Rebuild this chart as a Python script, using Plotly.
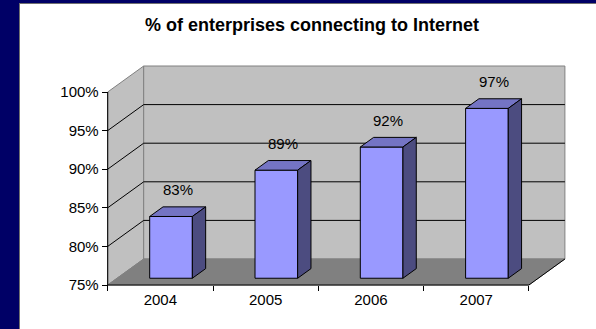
import plotly.graph_objects as go

# ---- data ----
years = ["2004", "2005", "2006", "2007"]
values = [83, 89, 92, 97]
y_ticks = [75, 80, 85, 90, 95, 100]
y_tick_labels = ["75%", "80%", "85%", "90%", "95%", "100%"]
title = "% of enterprises connecting to Internet"

# ---- layout / projection constants ----
W, H = 596, 329
PX_PER_CAT = 105.3
PX_PER_PCT = 7.72
X0_PX, Y0_PX = 107.7, 285.0          # screen position of (cat 0, 75%)
YMIN, YMAX = y_ticks[0], y_ticks[-1]
DX = 36.0 / PX_PER_CAT               # depth offset in category units
DY = 26.0 / PX_PER_PCT               # depth offset in % units
BAR_X0, BAR_X1 = 0.31, 0.715
BAR_D0, BAR_D1 = 0.26, 0.63

x_range = [-X0_PX / PX_PER_CAT, (W - X0_PX) / PX_PER_CAT]
y_range = [YMIN - (H - Y0_PX) / PX_PER_PCT, YMIN + Y0_PX / PX_PER_PCT]

FONT = "Arial, Liberation Sans, sans-serif"
NAVY = "#000066"


def P(x, y, d):
    return x + d * DX, y + d * DY


def poly(points, fill, line_color, width=1):
    pts = [P(*p) for p in points] + [P(*points[0])]
    return go.Scatter(x=[p[0] for p in pts], y=[p[1] for p in pts], mode="lines",
                      fill="toself", fillcolor=fill,
                      line=dict(color=line_color, width=width),
                      hoverinfo="skip", showlegend=False)


def line(points, color, width=1):
    pts = [P(*p) for p in points]
    return go.Scatter(x=[p[0] for p in pts], y=[p[1] for p in pts], mode="lines",
                      line=dict(color=color, width=width),
                      hoverinfo="skip", showlegend=False)


n = len(years)
fig = go.Figure()

# walls and floor
fig.add_trace(poly([(0, YMIN, 0), (0, YMIN, 1), (0, YMAX, 1), (0, YMAX, 0)], "#c0c0c0", "#808080"))
fig.add_trace(poly([(0, YMIN, 1), (n, YMIN, 1), (n, YMAX, 1), (0, YMAX, 1)], "#c0c0c0", "#808080"))
fig.add_trace(poly([(0, YMIN, 0), (n, YMIN, 0), (n, YMIN, 1), (0, YMIN, 1)], "#808080", "#808080"))
fig.add_trace(line([(n, YMIN, 0), (n, YMIN, 1)], "black"))

# gridlines
for v in y_ticks[1:-1]:
    fig.add_trace(line([(0, v, 0), (0, v, 1), (n, v, 1)], "black"))

# axis lines
fig.add_trace(line([(0, YMIN, 0), (0, YMAX, 0)], "black"))
fig.add_trace(line([(0, YMIN, 0), (n, YMIN, 0)], "black"))

# bars
for i, v in enumerate(values):
    a, b = i + BAR_X0, i + BAR_X1
    fig.add_trace(poly([(a, YMIN, BAR_D0), (b, YMIN, BAR_D0), (b, v, BAR_D0), (a, v, BAR_D0)], "#9999ff", "black"))
    fig.add_trace(poly([(a, v, BAR_D0), (b, v, BAR_D0), (b, v, BAR_D1), (a, v, BAR_D1)], "#7474c4", "black"))
    fig.add_trace(poly([(b, YMIN, BAR_D0), (b, YMIN, BAR_D1), (b, v, BAR_D1), (b, v, BAR_D0)], "#4c4c80", "black"))
    lx, ly = P(i + (BAR_X0 + BAR_X1) / 2, v, (BAR_D0 + BAR_D1) / 2)
    fig.add_annotation(x=lx, y=ly, text=f"{v}%", showarrow=False, yshift=22,
                       xanchor="center", yanchor="middle",
                       font=dict(family=FONT, size=15, color="black"))

# title
fig.add_annotation(x=312 / W, y=1 - 25 / H, xref="paper", yref="paper", text=f"<b>{title}</b>",
                   showarrow=False, xanchor="center", yanchor="middle",
                   font=dict(family=FONT, size=18, color="black"))

# navy frame strips (left and top) with a thin grey edge
fig.add_shape(type="rect", xref="paper", yref="paper", x0=-0.01, x1=19.5 / W, y0=-0.01, y1=1.01,
              fillcolor=NAVY, line=dict(width=0), layer="below")
fig.add_shape(type="rect", xref="paper", yref="paper", x0=-0.01, x1=1.01, y0=1 - 3 / H, y1=1.01,
              fillcolor=NAVY, line=dict(width=0), layer="below")
fig.add_shape(type="line", xref="paper", yref="paper", x0=19.5 / W, x1=19.5 / W, y0=-0.01, y1=1 - 3 / H,
              line=dict(color="#707070", width=1), layer="below")
fig.add_shape(type="line", xref="paper", yref="paper", x0=19.5 / W, x1=1.01, y0=1 - 3.5 / H, y1=1 - 3.5 / H,
              line=dict(color="#707070", width=1), layer="below")

x_axis_pos = (YMIN - y_range[0]) / (y_range[1] - y_range[0])
y_axis_pos = (0 - x_range[0]) / (x_range[1] - x_range[0])

fig.update_layout(
    width=W, height=H, margin=dict(l=0, r=0, t=0, b=0),
    paper_bgcolor="white", plot_bgcolor="rgba(0,0,0,0)",
    showlegend=False,
    xaxis=dict(range=x_range, anchor="free", position=x_axis_pos,
               tickvals=[i + 0.5 for i in range(n)], ticktext=years, ticks="",
               ticklabelstandoff=4,
               showline=False, showgrid=False, zeroline=False, fixedrange=True,
               tickfont=dict(family=FONT, size=15, color="black"),
               minor=dict(tickvals=list(range(n + 1)), ticks="outside", ticklen=5,
                          tickcolor="black", showgrid=False)),
    yaxis=dict(range=y_range, anchor="free", position=y_axis_pos,
               tickvals=y_ticks, ticktext=y_tick_labels, ticks="outside", ticklen=6,
               tickcolor="black", showline=False, showgrid=False, zeroline=False,
               fixedrange=True, tickfont=dict(family=FONT, size=15, color="black")),
)

fig.write_html("out.html")
